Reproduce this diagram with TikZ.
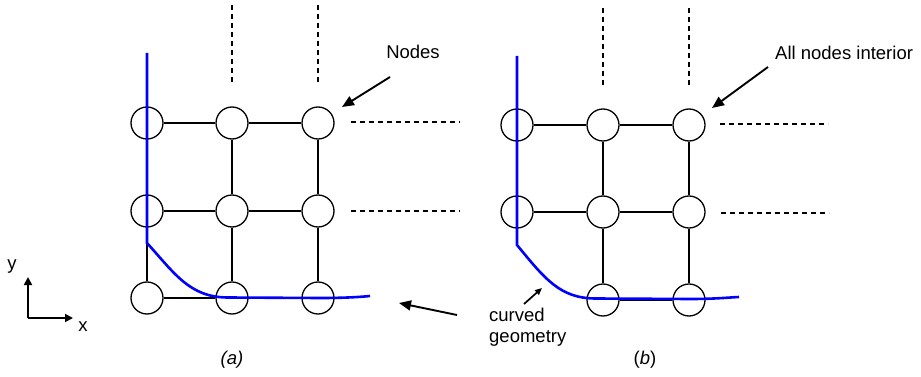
\documentclass[tikz,border=0pt]{standalone}
\usepackage{fontspec}
\setmainfont{Liberation Sans}
\usetikzlibrary{arrows.meta}
\begin{document}
\begin{tikzpicture}[x=1pt,y=-1pt,
  gnode/.style={circle,draw,line width=1.3pt,minimum size=32pt,inner sep=0pt},
  edge/.style={line width=1.3pt},
  dashln/.style={line width=1.3pt,dash pattern=on 5pt off 4pt},
  geom/.style={line width=2.6pt,blue,line join=miter},
  pointer/.style={line width=1.9pt,-{Triangle[length=12pt,width=10pt]}},
  axis/.style={line width=1.7pt,-{Triangle[length=8pt,width=8pt]}},
  lbl/.style={font=\fontsize{18.5}{21}\selectfont,inner sep=0pt}]
\useasboundingbox (0,0) rectangle (921,377);
% grid (a)
\foreach \c/\x in {1/147,2/232,3/318}{
  \foreach \r/\y in {1/123,2/211,3/298}{
    \node[gnode] (a\r\c) at (\x,\y) {};
  }
}
\foreach \u/\v in {a11/a12,a12/a13,a11/a21,a12/a22,a13/a23,a21/a22,a22/a23,a21/a31,a22/a32,a23/a33,a31/a32,a32/a33}{
  \draw[edge] (\u) -- (\v);
}
% grid (b)
\foreach \c/\x in {1/517,2/603,3/689}{
  \foreach \r/\y in {1/125,2/212}{
    \node[gnode] (b\r\c) at (\x,\y) {};
  }
}
\node[gnode] (b32) at (603,300) {};
\node[gnode] (b33) at (689,300) {};
\foreach \u/\v in {b11/b12,b12/b13,b11/b21,b12/b22,b13/b23,b21/b22,b22/b23,b22/b32,b23/b33,b32/b33}{
  \draw[edge] (\u) -- (\v);
}
% dashed continuation lines
\coordinate (da1t) at (232,5);  \coordinate (da1b) at (232,83);
\coordinate (da2t) at (318,5);  \coordinate (da2b) at (318,83);
\coordinate (da3l) at (351,122); \coordinate (da3r) at (460,122);
\coordinate (da4l) at (351,211); \coordinate (da4r) at (460,211);
\coordinate (db1t) at (603,8);  \coordinate (db1b) at (603,85);
\coordinate (db2t) at (689,8);  \coordinate (db2b) at (689,85);
\coordinate (db3l) at (720,124); \coordinate (db3r) at (828,124);
\coordinate (db4l) at (721,213); \coordinate (db4r) at (829,213);
\foreach \u/\v in {da1t/da1b,da2t/da2b,da3l/da3r,da4l/da4r,db1t/db1b,db2t/db2b,db3l/db3r,db4l/db4r}{
  \draw[dashln] (\u) -- (\v);
}
% blue geometry
\coordinate (ga0) at (147,53);
\coordinate (ga1) at (147,243);
\coordinate (ga2) at (228,297.5);
\coordinate (ga3) at (370,296);
\draw[geom] (ga0) -- (ga1) .. controls (175,274) and (190,297.5) .. (ga2)
  -- (320,298) .. controls (345,298) and (360,297) .. (ga3);
\coordinate (gb0) at (517,56);
\coordinate (gb1) at (517,245);
\coordinate (gb2) at (596,298.5);
\coordinate (gb3) at (739,297);
\draw[geom] (gb0) -- (gb1) .. controls (545,279) and (560,298.5) .. (gb2)
  -- (690,299) .. controls (715,299) and (728,297.5) .. (gb3);
% labels and pointers
\node[lbl] (tnodes) at (413,52) {Nodes};
\coordinate (pn0) at (390,77); \coordinate (pn1) at (342,107);
\draw[pointer] (pn0) -- (pn1);
\node[lbl,anchor=west] (tall) at (775,53) {All nodes interior};
\coordinate (pa0) at (768,67); \coordinate (pa1) at (712,108);
\draw[pointer] (pa0) -- (pa1);
\node[lbl,anchor=west,align=left] (tcurv) at (489,327) {curved\\geometry};
\coordinate (pc0) at (457,315); \coordinate (pc1) at (399,303);
\draw[pointer] (pc0) -- (pc1);
\coordinate (ps0) at (524,304); \coordinate (ps1) at (542,288);
\draw[line width=1.7pt,-{Triangle[length=7pt,width=6pt]}] (ps0) -- (ps1);
\node[lbl] (capa) at (232,360) {\itshape (a)};
\node[lbl] (capb) at (645,360) {(\textit{b})};
% axes
\coordinate (o) at (28,318);
\coordinate (oy) at (28,277);
\coordinate (ox) at (73,318);
\draw[axis] (o) -- (oy);
\draw[axis] (o) -- (ox);
\node[lbl] (ly) at (12,267) {y};
\node[lbl] (lx) at (83,327) {x};
\end{tikzpicture}
\end{document}
